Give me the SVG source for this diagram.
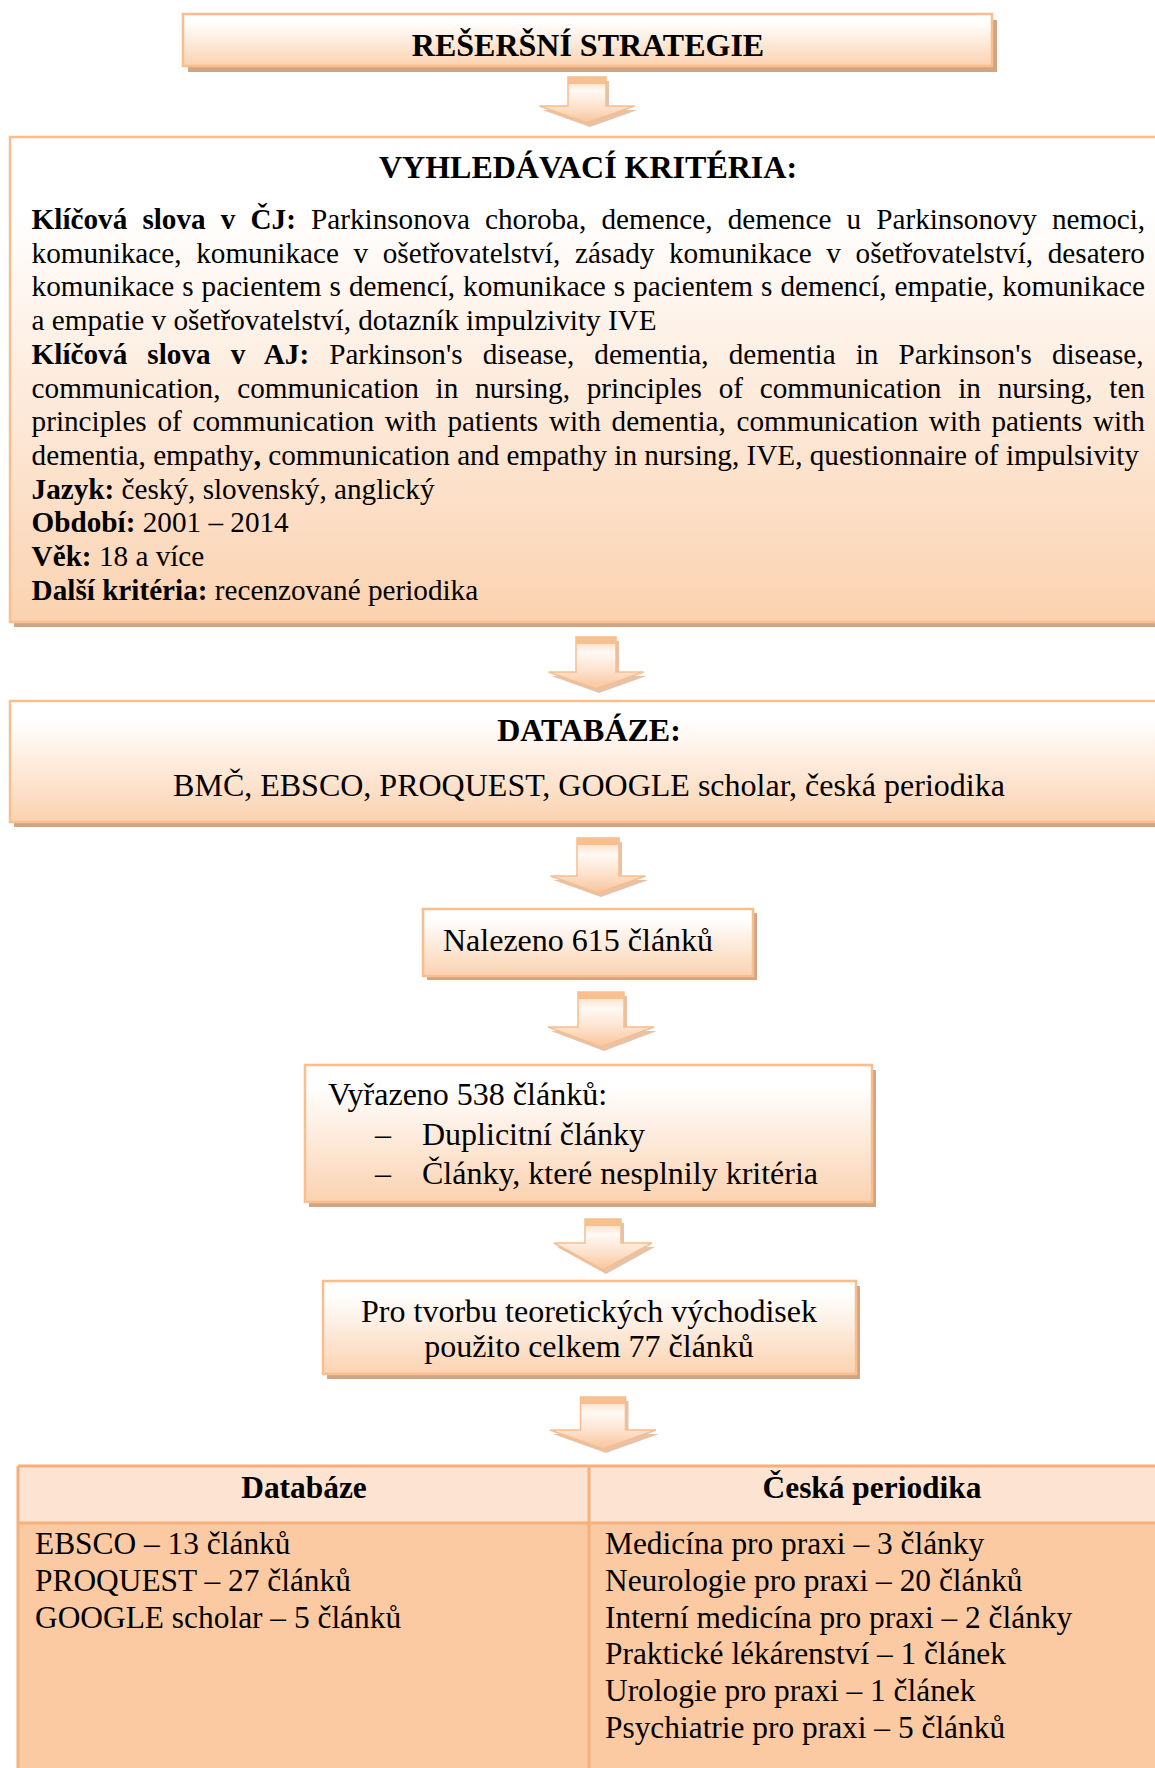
<svg xmlns="http://www.w3.org/2000/svg" width="1155" height="1768" viewBox="0 0 1155 1768">
<style>
text{font-family:"Liberation Serif","Times New Roman",serif;fill:#000}
.h{font-weight:bold;font-size:32px;text-anchor:middle}
.b{font-size:29.2px}
.bb{font-weight:bold}
.m{font-size:32px}
.c{text-anchor:middle}
.t{font-size:31.4px}
.box{stroke:#f9be8e;stroke-width:2.5;fill:url(#boxg)}
.sh{fill:#d2a482}
.ar{fill:url(#arg);stroke:#f7bd8c;stroke-width:1.5}
.arsh{fill:#dcae8b;opacity:.75}
.band{fill:#f8c08f}
.tb{stroke:#f6b07b;stroke-width:3}
</style>
<defs>
<linearGradient id="boxg" x1="0" y1="0" x2="0" y2="1">
<stop offset="0" stop-color="#ffffff"/>
<stop offset="0.15" stop-color="#ffffff"/>
<stop offset="1" stop-color="#fbd2b0"/>
</linearGradient>
<linearGradient id="arg" x1="0" y1="0" x2="0" y2="1">
<stop offset="0" stop-color="#fad3b3"/>
<stop offset="0.3" stop-color="#fff9f4"/>
<stop offset="0.65" stop-color="#fde2cd"/>
<stop offset="1" stop-color="#f8c49a"/>
</linearGradient>
</defs>

<g id="connectors">
<g id="arrow1"><path class="arsh" transform="translate(3,4)" d="M568,77 H606 V106 H634.5 L587,123 L539.5,106 H568 Z"/><path class="ar" d="M568,77 H606 V106 H634.5 L587,123 L539.5,106 H568 Z"/><rect class="band" x="568" y="77" width="38" height="7"/></g>
<g id="arrow2"><path class="arsh" transform="translate(3,4)" d="M576,637 H616 V672 H643.5 L596,689 L548.5,672 H576 Z"/><path class="ar" d="M576,637 H616 V672 H643.5 L596,689 L548.5,672 H576 Z"/><rect class="band" x="576" y="637" width="40" height="7"/></g>
<g id="arrow3"><path class="arsh" transform="translate(3,4)" d="M577,838 H619 V876 H645.5 L598,893 L550.5,876 H577 Z"/><path class="ar" d="M577,838 H619 V876 H645.5 L598,893 L550.5,876 H577 Z"/><rect class="band" x="577" y="838" width="42" height="7"/></g>
<g id="arrow4"><path class="arsh" transform="translate(3,4)" d="M578,992 H624 V1027 H654 L601,1047 L548,1027 H578 Z"/><path class="ar" d="M578,992 H624 V1027 H654 L601,1047 L548,1027 H578 Z"/><rect class="band" x="578" y="992" width="46" height="7"/></g>
<g id="arrow5"><path class="arsh" transform="translate(3,4)" d="M585,1219 H621 V1243 H652 L603,1270 L554,1243 H585 Z"/><path class="ar" d="M585,1219 H621 V1243 H652 L603,1270 L554,1243 H585 Z"/><rect class="band" x="585" y="1219" width="36" height="7"/></g>
<g id="arrow6"><path class="arsh" transform="translate(3,4)" d="M580.5,1397 H625.5 V1430 H656 L603,1449 L550,1430 H580.5 Z"/><path class="ar" d="M580.5,1397 H625.5 V1430 H656 L603,1449 L550,1430 H580.5 Z"/><rect class="band" x="580.5" y="1397" width="45" height="7"/></g>
</g>

<g id="node-title">
<rect class="sh" x="188" y="20" width="809" height="52"/>
<rect class="box" x="183" y="14" width="809" height="52"/>
<text class="h" x="588" y="56">REŠERŠNÍ STRATEGIE</text>
</g>

<g id="node-criteria">
<rect class="sh" x="14" y="142" width="1165" height="485"/>
<rect class="box" x="10" y="137" width="1165" height="485"/>
<text class="h" x="588" y="178">VYHLEDÁVACÍ KRITÉRIA:</text>
<text class="b" x="31.6" y="229" style="word-spacing:7.84px"><tspan class="bb">Klíčová slova v ČJ:</tspan> Parkinsonova choroba, demence, demence u Parkinsonovy nemoci,</text>
<text class="b" x="31.6" y="262.7" style="word-spacing:7.36px">komunikace, komunikace v ošetřovatelství, zásady komunikace v ošetřovatelství, desatero</text>
<text class="b" x="31.6" y="296.4" style="word-spacing:0.71px">komunikace s pacientem s demencí, komunikace s pacientem s demencí, empatie, komunikace</text>
<text class="b" x="31.6" y="330.1">a empatie v ošetřovatelství, dotazník impulzivity IVE</text>
<text class="b" x="31.6" y="363.8" style="word-spacing:12.78px"><tspan class="bb">Klíčová slova v AJ:</tspan> Parkinson's disease, dementia, dementia in Parkinson's disease,</text>
<text class="b" x="31.6" y="397.5" style="word-spacing:9.5px">communication, communication in nursing, principles of communication in nursing, ten</text>
<text class="b" x="31.6" y="431.2" style="word-spacing:3.44px">principles of communication with patients with dementia, communication with patients with</text>
<text class="b" x="31.6" y="464.9">dementia, empathy<tspan class="bb">,</tspan> communication and empathy in nursing, IVE, questionnaire of impulsivity</text>
<text class="b" x="31.6" y="498.6"><tspan class="bb">Jazyk:</tspan> český, slovenský, anglický</text>
<text class="b" x="31.6" y="532.3"><tspan class="bb">Období:</tspan> 2001 – 2014</text>
<text class="b" x="31.6" y="566"><tspan class="bb">Věk:</tspan> 18 a více</text>
<text class="b" x="31.6" y="599.7"><tspan class="bb">Další kritéria:</tspan> recenzované periodika</text>
</g>

<g id="node-databaze">
<rect class="sh" x="14" y="706" width="1165" height="121"/>
<rect class="box" x="10" y="701" width="1165" height="121"/>
<text class="h" x="589" y="741">DATABÁZE:</text>
<text class="m c" x="589" y="796">BMČ, EBSCO, PROQUEST, GOOGLE scholar, česká periodika</text>
</g>

<g id="node-nalezeno">
<rect class="sh" x="427" y="913" width="330" height="67"/>
<rect class="box" x="423" y="909" width="330" height="67"/>
<text class="m" x="443" y="951">Nalezeno 615 článků</text>
</g>

<g id="node-vyrazeno">
<rect class="sh" x="309" y="1070" width="567" height="137"/>
<rect class="box" x="305" y="1065" width="567" height="137"/>
<text class="m" x="328" y="1105">Vyřazeno 538 článků:</text>
<text class="m" x="375" y="1145">–</text>
<text class="m" x="422" y="1145">Duplicitní články</text>
<text class="m" x="375" y="1184">–</text>
<text class="m" x="422" y="1184">Články, které nesplnily kritéria</text>
</g>

<g id="node-pouzito">
<rect class="sh" x="327" y="1286" width="533" height="93"/>
<rect class="box" x="323" y="1281" width="533" height="93"/>
<text class="m c" x="589" y="1322">Pro tvorbu teoretických východisek</text>
<text class="m c" x="589" y="1357">použito celkem 77 článků</text>
</g>

<g id="node-table">
<rect x="18" y="1466" width="1150" height="57" fill="#fde4d2"/>
<rect x="18" y="1523" width="1150" height="260" fill="#fbcaa3"/>
<path class="tb" fill="none" d="M18,1466 H1170 M18,1523 H1170 M18,1466 V1780 M589,1466 V1780"/>
<text class="t bb c" x="304" y="1498">Databáze</text>
<text class="t bb c" x="872" y="1498">Česká periodika</text>
<text class="t" x="35" y="1554">EBSCO – 13 článků</text>
<text class="t" x="35" y="1591">PROQUEST – 27 článků</text>
<text class="t" x="35" y="1628">GOOGLE scholar – 5 článků</text>
<text class="t" x="605" y="1554">Medicína pro praxi – 3 články</text>
<text class="t" x="605" y="1591">Neurologie pro praxi – 20 článků</text>
<text class="t" x="605" y="1628">Interní medicína pro praxi – 2 články</text>
<text class="t" x="605" y="1664">Praktické lékárenství – 1 článek</text>
<text class="t" x="605" y="1701">Urologie pro praxi – 1 článek</text>
<text class="t" x="605" y="1738">Psychiatrie pro praxi – 5 článků</text>
</g>
</svg>
